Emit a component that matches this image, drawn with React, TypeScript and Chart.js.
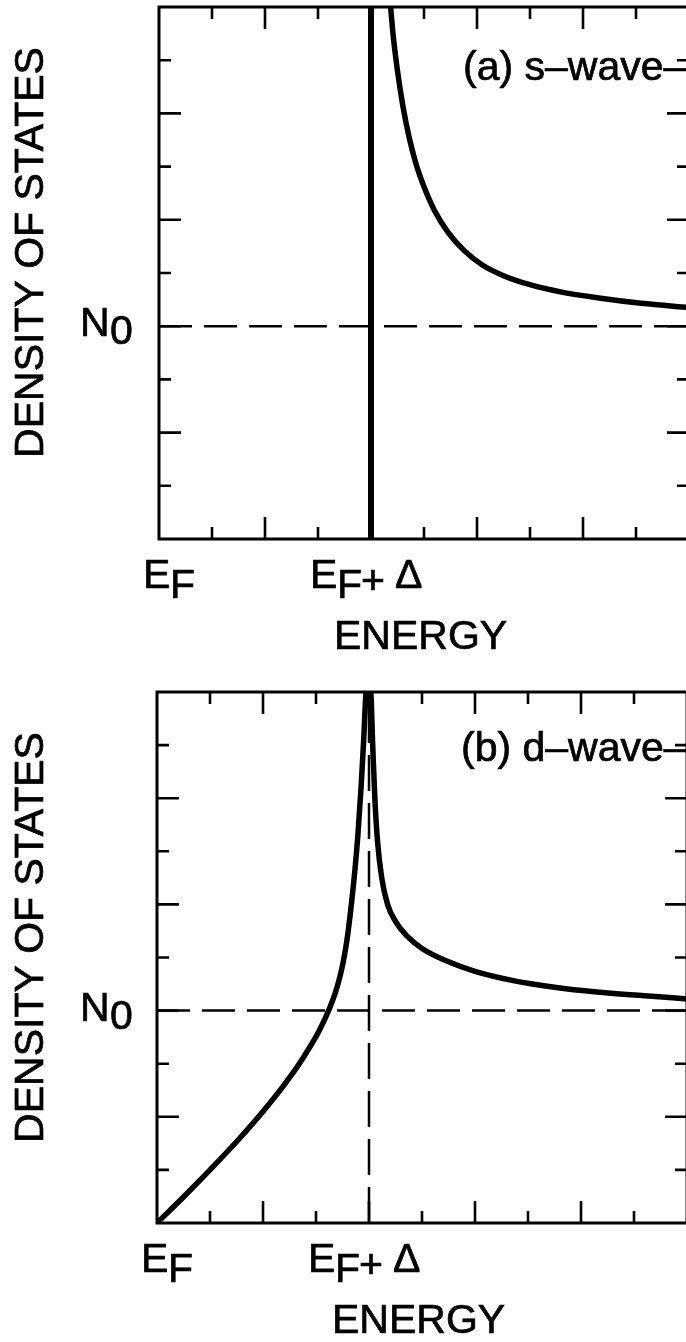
import React, { useEffect, useRef } from "react";
import { Chart, registerables } from "chart.js";

Chart.register(...registerables);

// ---- axis ranges (arbitrary units) ----
const X_MIN = 0;
const X_MAX = 10;
const Y_MIN = 0;
const Y_MAX = 10;
const gapEnergy = 4; // position of E_F + Δ
const normalDOS = 4; // level N0

// ---- tick positions ----
const minorTicks = [1, 2, 3, 4, 5, 6, 7, 8, 9];
const majorTicks = [2, 4, 6, 8];

// ---- texts ----
const yTitle = "DENSITY OF STATES";
const xTitle = "ENERGY";
const titleA = "(a) s–wave–";
const titleB = "(b) d–wave–";

// ---- (a) s-wave curve ----
const sWaveEnergy = [4.37, 4.42, 4.5, 4.6, 4.72, 4.85, 5.0, 5.2, 5.45, 5.75, 6.1, 6.5, 7.0, 7.6, 8.3, 9.1, 10.0];
const sWaveDOS = [10.0, 9.45, 8.8, 8.15, 7.55, 7.05, 6.62, 6.17, 5.77, 5.43, 5.15, 4.95, 4.78, 4.64, 4.53, 4.43, 4.35];

// ---- (b) d-wave curve ----
const dWaveEnergy = [0, 0.5, 1.0, 1.5, 2.0, 2.4, 2.75, 3.05, 3.25, 3.4, 3.5, 3.58, 3.65, 3.72, 3.79, 3.85, 3.9, 3.95, 4.03, 4.07, 4.11, 4.16, 4.24, 4.35, 4.5, 4.7, 5.0, 5.5, 6.0, 6.7, 7.5, 8.3, 9.2, 10.0];
const dWaveDOS = [0, 0.49, 1.0, 1.53, 2.1, 2.6, 3.1, 3.6, 4.03, 4.45, 4.85, 5.3, 5.85, 6.5, 7.3, 8.2, 9.1, 10.0, 10.0, 9.0, 8.0, 7.2, 6.5, 6.0, 5.68, 5.42, 5.17, 4.92, 4.74, 4.57, 4.44, 4.35, 4.28, 4.22];

const FONT_FAMILY = '"Liberation Sans", Arial, Helvetica, sans-serif';

function txt(ctx: CanvasRenderingContext2D, s: string, x: number, y: number) {
  ctx.fillText(s, x, y);
  ctx.strokeText(s, x, y);
}

const panelPlugin = {
  id: "panelDecor",
  afterDatasetsDraw(chart: any) {
    const ctx = chart.ctx as CanvasRenderingContext2D;
    const { left, right, top, bottom } = chart.chartArea;
    const xs = chart.scales.x;
    const ys = chart.scales.y;
    ctx.save();
    ctx.strokeStyle = "#000";
    ctx.lineWidth = 3;
    ctx.strokeRect(left, top, right - left, bottom - top);
    ctx.lineWidth = 2.6;
    for (const v of minorTicks) {
      const len = majorTicks.includes(v) ? 22 : 12;
      const px = xs.getPixelForValue(v);
      ctx.beginPath();
      ctx.moveTo(px, bottom);
      ctx.lineTo(px, bottom - len);
      ctx.moveTo(px, top);
      ctx.lineTo(px, top + len);
      ctx.stroke();
      const py = ys.getPixelForValue(v);
      ctx.beginPath();
      ctx.moveTo(left, py);
      ctx.lineTo(left + len, py);
      ctx.moveTo(right, py);
      ctx.lineTo(right - len, py);
      ctx.stroke();
    }
    ctx.restore();
  },
  afterDraw(chart: any, _args: any, opts: any) {
    const ctx = chart.ctx as CanvasRenderingContext2D;
    const { left, top, bottom } = chart.chartArea;
    const xs = chart.scales.x;
    const ys = chart.scales.y;
    const pGap = xs.getPixelForValue(gapEnergy);
    const pN0 = ys.getPixelForValue(normalDOS);
    ctx.save();
    ctx.fillStyle = "#000";
    ctx.strokeStyle = "#000";
    ctx.lineWidth = 0.7;
    ctx.textAlign = "left";
    ctx.textBaseline = "alphabetic";
    ctx.font = `41px ${FONT_FAMILY}`;

    // E_F
    txt(ctx, "E", left - 16, bottom + 49);
    txt(ctx, "F", left + 11, bottom + 59);
    // E_F + Δ
    txt(ctx, "E", pGap - 61, bottom + 49);
    txt(ctx, "F", pGap - 34, bottom + 59);
    txt(ctx, "+", pGap - 10, bottom + 55);
    txt(ctx, "Δ", pGap + 24, bottom + 49);
    // ENERGY
    txt(ctx, xTitle, pGap - 37, bottom + 110);
    // N0
    txt(ctx, "N", 80, pN0 + 10);
    txt(ctx, "0", 110, pN0 + 18);
    // panel title
    txt(ctx, opts.title, left + 304, top + opts.titleDy);
    // y title
    ctx.save();
    ctx.translate(31.5, top + 245.5);
    ctx.rotate(-Math.PI / 2);
    ctx.textAlign = "center";
    ctx.textBaseline = "middle";
    txt(ctx, yTitle, 0, 0);
    ctx.restore();
    ctx.restore();
  },
};

function pts(xs: number[], ys: number[]) {
  return xs.map((x, i) => ({ x, y: ys[i] }));
}

function makeConfig(panel: "a" | "b", padding: any): any {
  const isA = panel === "a";
  const common = { borderColor: "#000", backgroundColor: "#000", pointRadius: 0, showLine: true, fill: false };
  const datasets: any[] = [
    {
      ...common,
      data: [{ x: X_MIN, y: normalDOS }, { x: X_MAX, y: normalDOS }],
      borderWidth: 2.5,
      borderDash: [33, 12],
    },
  ];
  if (isA) {
    datasets.push({
      ...common,
      data: [{ x: gapEnergy, y: Y_MIN }, { x: gapEnergy, y: Y_MAX }],
      borderWidth: 6,
    });
    datasets.push({
      ...common,
      data: pts(sWaveEnergy, sWaveDOS),
      borderWidth: 5.5,
      cubicInterpolationMode: "monotone",
    });
  } else {
    datasets.push({
      ...common,
      data: [{ x: gapEnergy, y: Y_MIN }, { x: gapEnergy, y: Y_MAX }],
      borderWidth: 2.5,
      borderDash: [36, 12],
    });
    datasets.push({
      ...common,
      data: pts(dWaveEnergy, dWaveDOS),
      borderWidth: 5.5,
      cubicInterpolationMode: "monotone",
    });
  }
  return {
    type: "scatter",
    data: { datasets },
    options: {
      animation: false,
      responsive: false,
      events: [],
      layout: { padding },
      scales: {
        x: { type: "linear", min: X_MIN, max: X_MAX, display: false },
        y: { type: "linear", min: Y_MIN, max: Y_MAX, display: false },
      },
      plugins: {
        legend: { display: false },
        tooltip: { enabled: false },
        panelDecor: { title: isA ? titleA : titleB, titleDy: isA ? 73 : 69 },
      },
    },
    plugins: [panelPlugin],
  };
}

export default function App() {
  const refA = useRef<HTMLCanvasElement>(null);
  const refB = useRef<HTMLCanvasElement>(null);
  useEffect(() => {
    const a = new Chart(refA.current!, makeConfig("a", { left: 159, top: 7, right: 740 - 689, bottom: 685 - 539 }));
    const b = new Chart(refB.current!, makeConfig("b", { left: 157, top: 7, right: 740 - 687, bottom: 657 - 538 }));
    return () => {
      a.destroy();
      b.destroy();
    };
  }, []);
  return (
    <div
      style={{
        position: "absolute",
        left: 0,
        top: 0,
        width: 686,
        height: 1342,
        overflow: "hidden",
        background: "#fff",
      }}
    >
      <canvas
        ref={refA}
        width={740}
        height={685}
        style={{ position: "absolute", left: 0, top: 0, width: 740, height: 685 }}
      />
      <canvas
        ref={refB}
        width={740}
        height={657}
        style={{ position: "absolute", left: 0, top: 685, width: 740, height: 657 }}
      />
    </div>
  );
}
